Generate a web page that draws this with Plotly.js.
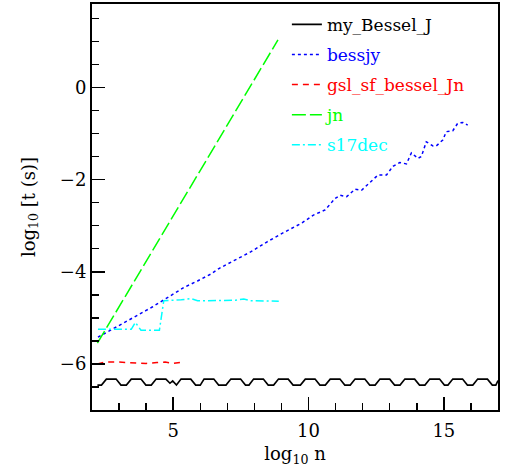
<!DOCTYPE html>
<html>
<head>
<meta charset="utf-8">
<script src="https://cdn.plot.ly/plotly-3.0.1.min.js"></script>
<style>html,body{margin:0;padding:0;background:#fff;}#chart{width:505px;height:472px;}</style>
</head>
<body>
<div id="chart"></div>
<script>
// my_Bessel_J (black, solid)
const myX = [2.2, 2.35, 2.53, 2.89, 3.07, 3.27, 3.45, 3.81, 3.99, 4.19, 4.37, 4.73, 4.88, 4.98, 5.12,
  5.29, 5.65, 5.83, 6.0, 6.14, 6.5, 6.68, 6.95, 7.13, 7.49, 7.67, 7.8, 7.97, 8.33, 8.51, 8.71,
  8.89, 9.25, 9.43, 9.7, 9.88, 10.24, 10.42, 10.62, 10.8, 11.16, 11.34, 11.54, 11.72, 12.08, 12.26, 12.46,
  12.64, 13.0, 13.18, 13.38, 13.56, 13.92, 14.1, 14.3, 14.48, 14.84, 15.02, 15.15, 15.33, 15.69, 15.87, 16.07,
  16.25, 16.61, 16.79, 16.92, 17.0];
const myY = [-6.46, -6.46, -6.33, -6.33, -6.46, -6.46, -6.33, -6.33, -6.46, -6.46, -6.33, -6.33, -6.42, -6.37, -6.46,
  -6.33, -6.33, -6.46, -6.46, -6.33, -6.33, -6.46, -6.46, -6.33, -6.33, -6.46, -6.46, -6.33, -6.33, -6.46, -6.46,
  -6.33, -6.33, -6.46, -6.46, -6.33, -6.33, -6.46, -6.46, -6.33, -6.33, -6.46, -6.46, -6.33, -6.33, -6.46, -6.46,
  -6.33, -6.33, -6.46, -6.46, -6.33, -6.33, -6.46, -6.46, -6.33, -6.33, -6.46, -6.46, -6.33, -6.33, -6.46, -6.46,
  -6.33, -6.33, -6.46, -6.46, -6.36];

// bessjy (blue, dotted)
const bessjyX = [2.22, 2.6, 3.0, 3.5, 4.0, 4.24, 4.6, 5.0, 5.4, 5.9, 6.39, 6.69, 7.0, 7.24, 7.86, 8.47, 9.08, 9.57,
  9.76, 10.18, 10.61, 10.98, 11.17, 11.41, 11.72, 11.96, 12.33, 12.57, 12.88, 13.12, 13.37, 13.62, 13.8,
  14.04, 14.17, 14.35, 14.6, 14.72, 14.96, 15.09, 15.33, 15.51, 15.7, 15.88];
const bessjyY = [-5.42, -5.3, -5.17, -5.0, -4.84, -4.76, -4.63, -4.48, -4.34, -4.2, -4.05, -3.93, -3.84, -3.76, -3.57, -3.35, -3.15, -2.99,
  -2.94, -2.77, -2.66, -2.41, -2.34, -2.37, -2.21, -2.23, -2.03, -1.9, -1.9, -1.71, -1.63, -1.66, -1.42,
  -1.54, -1.5, -1.18, -1.27, -1.27, -1.14, -0.96, -0.94, -0.78, -0.76, -0.82];

// gsl_sf_bessel_Jn (red, dashed)
const gslX = [2.2, 2.5, 3.0, 3.5, 4.0, 4.4, 4.7, 5.0, 5.35];
const gslY = [-6.0, -5.96, -5.96, -5.97, -5.99, -5.97, -5.96, -5.99, -5.96];

// jn (green, long dashed)
const jnX = [2.2, 4.8, 8.87];
const jnY = [-5.55, -2.99, 1.03];

// s17dec (cyan, dash-dot)
const s17X = [2.22, 3.45, 3.6, 3.81, 4.49, 4.65, 5.3, 5.65, 5.9, 6.5, 7.3, 7.61, 7.86, 8.9];
const s17Y = [-5.25, -5.25, -5.1, -5.27, -5.27, -4.63, -4.61, -4.58, -4.63, -4.62, -4.62, -4.59, -4.63, -4.64];

const names = ['my_Bessel_J', 'bessjy', 'gsl_sf_bessel_Jn', 'jn', 's17dec'];
const colors = ['#000000', '#0000ff', '#ff0000', '#00ff00', '#00ffff'];
const dashes = ['solid', 'dot', '6px,5px', '14px,4px', '8px,3px,2px,3px'];
const xs = [myX, bessjyX, gslX, jnX, s17X];
const ys = [myY, bessjyY, gslY, jnY, s17Y];

const traces = names.map((n, i) => ({
  x: xs[i], y: ys[i], type: 'scatter', mode: 'lines',
  name: '<span style="color:' + colors[i] + '">' + n + '</span>',
  legendgroup: 'g' + i,
  line: {color: colors[i], width: i === 0 ? 1.6 : 1.5, dash: dashes[i]}
}));

const axisFont = {family: 'DejaVu Serif', size: 18, color: '#000'};
const layout = {
  width: 505, height: 472,
  margin: {l: 92, r: 7, t: 4, b: 62},
  paper_bgcolor: '#fff', plot_bgcolor: '#fff',
  showlegend: true,
  legend: {x: 0.48, xanchor: 'left', y: 0.993, yanchor: 'top', bgcolor: 'rgba(0,0,0,0)',
    font: {family: 'DejaVu Serif', size: 17}, tracegroupgap: 5},
  xaxis: {
    range: [2, 17], showgrid: false, zeroline: false,
    showline: true, linecolor: '#000', linewidth: 2, mirror: true,
    ticks: 'inside', ticklen: 13, tickwidth: 1.5, tickcolor: '#000',
    tickvals: [5, 10, 15], ticktext: ['5', '10', '15'],
    ticklabelstandoff: 3,
    minor: {ticks: 'inside', ticklen: 7, tickwidth: 1.5, tickcolor: '#000', dtick: 1, tick0: 0},
    tickfont: axisFont,
    title: {text: 'log<sub>10</sub> n', font: axisFont, standoff: 8}
  },
  yaxis: {
    range: [-7, 1.81], showgrid: false, zeroline: false,
    showline: true, linecolor: '#000', linewidth: 2, mirror: true,
    ticks: 'inside', ticklen: 13, tickwidth: 1.5, tickcolor: '#000',
    tickvals: [-6, -4, -2, 0], ticktext: ['\u22126', '\u22124', '\u22122', '0'],
    minor: {ticks: 'inside', ticklen: 7, tickwidth: 1.5, tickcolor: '#000', dtick: 0.5, tick0: 0},
    tickfont: axisFont,
    title: {text: 'log<sub>10</sub> [t (s)]', font: axisFont, standoff: 20}
  }
};

Plotly.newPlot('chart', traces, layout, {displayModeBar: false, staticPlot: true});
</script>
</body>
</html>
